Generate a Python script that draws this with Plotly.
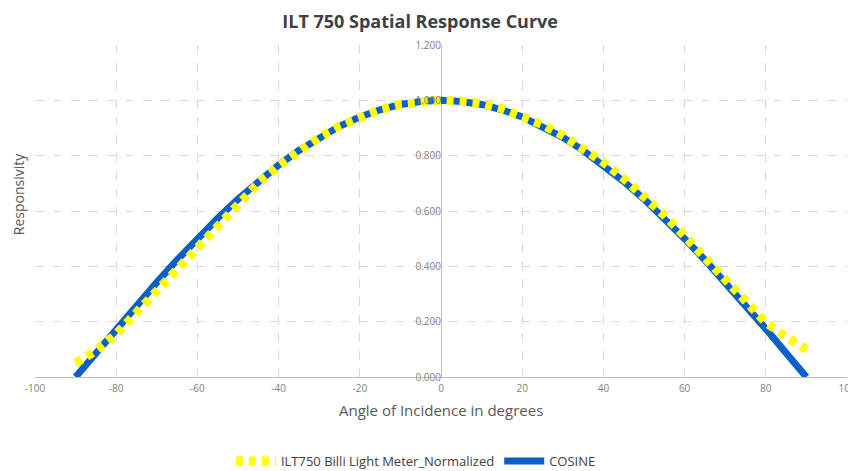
import plotly.graph_objects as go

angles = [-90, -85, -80, -75, -70, -65, -60, -55, -50, -45, -40, -35, -30, -25, -20, -15, -10, -5,
          0, 5, 10, 15, 20, 25, 30, 35, 40, 45, 50, 55, 60, 65, 70, 75, 80, 85, 90]

meter = [0.050, 0.095, 0.155, 0.232, 0.310, 0.385, 0.462, 0.542, 0.622, 0.700, 0.762, 0.818,
         0.866, 0.906, 0.940, 0.966, 0.985, 0.996, 1.000, 0.997, 0.988, 0.970, 0.945, 0.912,
         0.873, 0.828, 0.776, 0.718, 0.655, 0.585, 0.510, 0.432, 0.352, 0.272, 0.197, 0.145, 0.100]

cosine = [0.000, 0.087, 0.174, 0.259, 0.342, 0.423, 0.500, 0.574, 0.643, 0.707, 0.766, 0.819,
          0.866, 0.906, 0.940, 0.966, 0.985, 0.996, 1.000, 0.996, 0.985, 0.966, 0.940, 0.906,
          0.866, 0.819, 0.766, 0.707, 0.643, 0.574, 0.500, 0.423, 0.342, 0.259, 0.174, 0.087, 0.000]

x_ticks = [-100, -80, -60, -40, -20, 0, 20, 40, 60, 80, 100]
y_ticks = [0.0, 0.2, 0.4, 0.6, 0.8, 1.0, 1.2]

fig = go.Figure()
fig.add_trace(go.Scatter(
    x=angles, y=cosine, mode="lines", name="COSINE",
    line=dict(color="#0b5fc6", width=7), legendrank=2,
))
fig.add_trace(go.Scatter(
    x=angles, y=meter, mode="lines", name="ILT750 Billi Light Meter_Normalized",
    line=dict(color="#ffff00", width=9, dash="7px,6px"), legendrank=1,
))

grid = "#d9d9d9"
# the page body adds an 8px margin, so the figure is sized 8px smaller
fig.update_layout(
    width=848, height=463,
    margin=dict(l=27, r=9, t=37, b=94, autoexpand=False),
    paper_bgcolor="white", plot_bgcolor="white",
    font=dict(family="Open Sans", color="#808080"),
    title=dict(text="<b>ILT 750 Spatial Response Curve</b>", x=0.486, xanchor="center",
               y=0.970, yanchor="middle",
               font=dict(family="Open Sans", size=18, color="#404040")),
    showlegend=True,
    legend=dict(orientation="h", xref="container", yref="container",
                x=0.481, xanchor="center", y=0.0216, yanchor="middle",
                font=dict(family="Open Sans", size=13, color="#404040"),
                traceorder="normal", itemwidth=40),
    xaxis=dict(range=[-100, 100], tickvals=x_ticks, ticktext=[str(v) for v in x_ticks],
               showgrid=True, gridcolor=grid, griddash="dash", gridwidth=1,
               zeroline=True, zerolinecolor="#bfbfbf", zerolinewidth=1,
               showline=False, ticks="", ticklabelstandoff=4,
               tickfont=dict(size=10, color="#808080")),
    yaxis=dict(range=[0, 1.2], tickvals=y_ticks, ticktext=[f"{v:.3f}" for v in y_ticks],
               showgrid=True, gridcolor=grid, griddash="dash", gridwidth=1,
               zeroline=True, zerolinecolor="#bfbfbf", zerolinewidth=1,
               anchor="free", position=0.5, showline=False, ticks="",
               tickfont=dict(size=10, color="#808080")),
    annotations=[
        dict(text="Angle of Incidence in degrees", xref="paper", yref="paper",
             x=0.5, y=-0.099, xanchor="center", yanchor="middle", showarrow=False,
             font=dict(family="Open Sans", size=15, color="#595959")),
        dict(text="Responsivity", xref="paper", yref="paper", x=-0.02, y=0.55,
             xanchor="center", yanchor="middle", showarrow=False, textangle=-90,
             font=dict(family="Open Sans", size=14, color="#595959")),
    ],
)

fig.write_html("out.html")
